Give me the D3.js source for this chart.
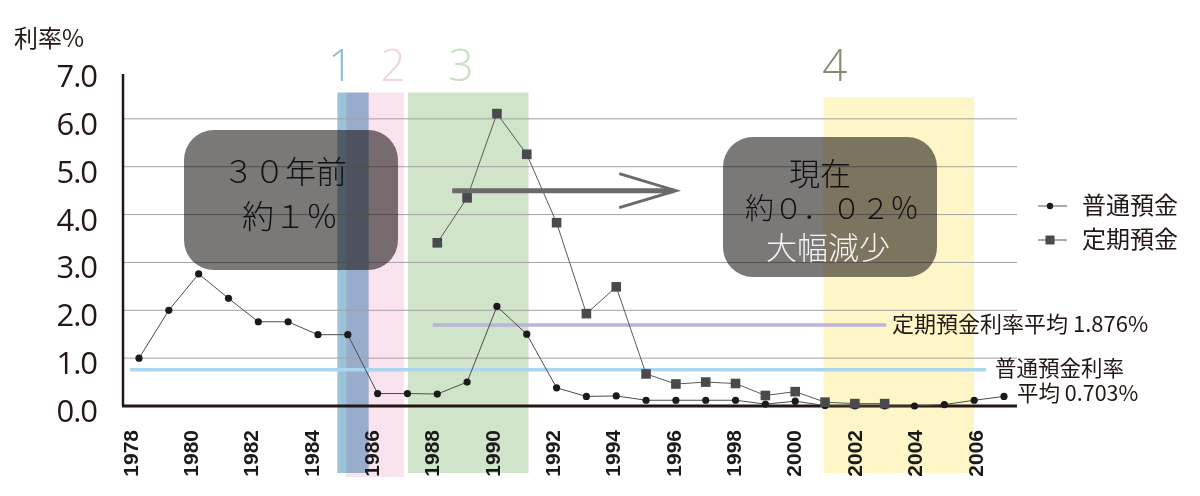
<!DOCTYPE html>
<html>
<head>
<meta charset="utf-8">
<script src="https://cdn.jsdelivr.net/npm/d3@7"></script>
<style>
body { margin:0; background:#ffffff; }
svg { display:block; }
</style>
</head>
<body>
<svg id="drawing_region"></svg>
<script>
// data
const years = [1978,1979,1980,1981,1982,1983,1984,1985,1986,1987,1988,1989,1990,1991,1992,
               1993,1994,1995,1996,1997,1998,1999,2000,2001,2002,2003,2004,2005,2006,2007];
const futsuuRates = [1.00,2.00,2.76,2.25,1.76,1.76,1.49,1.49,0.26,0.26,0.25,0.50,2.08,1.50,0.38,
                     0.20,0.21,0.12,0.12,0.12,0.12,0.04,0.10,0.01,0.00,0.00,0.00,0.03,0.12,0.20];
const teikiYears = [1988,1989,1990,1991,1992,1993,1994,1995,1996,1997,1998,1999,2000,2001,2002,2003];
const teikiRates = [3.41,4.35,6.11,5.26,3.83,1.93,2.49,0.67,0.46,0.50,0.47,0.22,0.30,0.08,0.05,0.05];

const seriesNames = ['普通預金', '定期預金'];

const yTickValues = [0,1,2,3,4,5,6,7];
const yTickLabels = ['0.0','1.0','2.0','3.0','4.0','5.0','6.0','7.0'];
const xTickYears = [1978,1980,1982,1984,1986,1988,1990,1992,1994,1996,1998,2000,2002,2004,2006];

const bandNames = ['2','1','3','4'];
const bandFrom  = [1984.95,1984.65,1987.02,2000.95];
const bandTo    = [1986.88,1985.70,1991.06,2006.00];
const bandLabelYear = [1986.52,1984.77,1988.80,2001.33];

const avgLineValue = [0.76,1.69];
const avgFrom = [1977.7,1987.85];
const avgTo   = [2006.4,2003.05];

var config = {
    parent: '#drawing_region',
    width: 1200,
    height: 496,
    margin: {top:71, right:183, bottom:90, left:123}
};

class LineChart {

    constructor( config ) {
        this.config = config;
        this.init();
    }

    init() {
        let self = this;

        self.svg = d3.select( self.config.parent )
            .attr('width', self.config.width)
            .attr('height', self.config.height);

        self.chart = self.svg.append('g')
            .attr('transform', `translate(${self.config.margin.left}, ${self.config.margin.top})`);

        self.inner_width = self.config.width - self.config.margin.left - self.config.margin.right;
        self.inner_height = self.config.height - self.config.margin.top - self.config.margin.bottom;

        self.xscale = d3.scaleLinear()
            .domain([1978, 2007])
            .range([16, 881]);

        // the year labels sit on a slightly wider spacing than the points
        self.xlabelscale = d3.scaleLinear()
            .domain([1978, 2006])
            .range([7, 852]);

        self.yscale = d3.scaleLinear()
            .domain([0, 7])
            .range([self.inner_height, 0]);

        self.line = d3.line()
            .x( d => self.xscale(d.x) )
            .y( d => self.yscale(d.y) );
    }

    render() {
        let self = this;
        const x = self.xscale, y = self.yscale;

        // coloured periods
        const bandColor = ['#f8e3ee', '#9cc3da', '#cfe4c8', '#fff6c8'];
        const labelColor = ['#f4d3e1', '#90bcd6', '#c6e1bd', '#8a8a70'];
        self.chart.selectAll('.band')
            .data(bandNames)
            .join('rect')
            .attr('class', 'band')
            .attr('x', (d,i) => x(bandFrom[i]))
            .attr('width', (d,i) => x(bandTo[i]) - x(bandFrom[i]))
            .attr('y', (d,i) => i == 3 ? y(6.45) : y(6.55))
            .attr('height', (d,i) => self.inner_height - y(6.55) + (i == 0 ? 71 : 67) - (i == 3 ? (y(6.45) - y(6.55)) : 0))
            .attr('fill', (d,i) => bandColor[i])
            .style('mix-blend-mode', 'multiply');

        self.chart.selectAll('.band_label')
            .data(bandNames)
            .join('text')
            .attr('class', 'band_label')
            .attr('x', (d,i) => x(bandLabelYear[i]))
            .attr('y', 10)
            .attr('text-anchor', 'middle')
            .attr('font-family', '"Open Sans", sans-serif')
            .attr('font-weight', 300)
            .attr('font-size', '44px')
            .attr('fill', (d,i) => labelColor[i])
            .text(d => d);

        // grid
        self.chart.selectAll('.grid')
            .data(yTickValues.filter(v => v > 0 && v < 7))
            .join('line')
            .attr('class', 'grid')
            .attr('x1', 0)
            .attr('x2', self.inner_width)
            .attr('y1', d => y(d))
            .attr('y2', d => y(d))
            .attr('stroke', '#a3a3a3')
            .attr('stroke-width', 1);

        // average lines
        const avgColor = ['#acd6ef', '#bab4da'];
        self.chart.selectAll('.avg')
            .data(avgLineValue)
            .join('line')
            .attr('class', 'avg')
            .attr('x1', (d,i) => x(avgFrom[i]))
            .attr('x2', (d,i) => x(avgTo[i]))
            .attr('y1', d => y(d))
            .attr('y2', d => y(d))
            .attr('stroke', (d,i) => avgColor[i])
            .attr('stroke-width', 3.5);

        const sans = '"Noto Sans CJK JP", "Noto Sans", sans-serif';
        const ink = '#231815';

        self.chart.append('text')
            .attr('x', 769)
            .attr('y', 261)
            .attr('font-family', sans)
            .attr('font-size', '22px')
            .attr('fill', ink)
            .text('定期預金利率平均 1.876%');

        self.chart.append('text')
            .attr('x', 872)
            .attr('y', 305)
            .attr('font-family', sans)
            .attr('font-size', '21.5px')
            .attr('fill', ink)
            .text('普通預金利率');

        self.chart.append('text')
            .attr('x', 894)
            .attr('y', 330)
            .attr('font-family', sans)
            .attr('font-size', '21.5px')
            .attr('fill', ink)
            .text('平均 0.703%');

        // axes
        self.chart.append('line')
            .attr('x1', 0).attr('x2', 0)
            .attr('y1', 3).attr('y2', self.inner_height)
            .attr('stroke', '#231815')
            .attr('stroke-width', 2.5);

        self.chart.append('line')
            .attr('x1', -1).attr('x2', self.inner_width)
            .attr('y1', self.inner_height).attr('y2', self.inner_height)
            .attr('stroke', '#231815')
            .attr('stroke-width', 3);

        self.chart.selectAll('.ytick')
            .data(yTickValues)
            .join('text')
            .attr('class', 'ytick')
            .attr('x', -26)
            .attr('y', d => y(d) + 16)
            .attr('text-anchor', 'end')
            .attr('font-family', '"Open Sans", sans-serif')
            .attr('font-size', '31px')
            .attr('letter-spacing', '-1px')
            .attr('fill', ink)
            .text((d,i) => yTickLabels[i]);

        self.chart.selectAll('.xtick')
            .data(xTickYears)
            .join('text')
            .attr('class', 'xtick')
            .attr('transform', d => `translate(${self.xlabelscale(d)}, ${self.inner_height + 24}) rotate(-90)`)
            .attr('text-anchor', 'end')
            .attr('dy', '0.36em')
            .attr('font-family', '"Liberation Sans", Arial, sans-serif')
            .attr('font-weight', 'bold')
            .attr('font-size', '21px')
            .attr('fill', '#1a1a1a')
            .text(d => d);

        self.svg.append('text')
            .attr('x', 14)
            .attr('y', 47)
            .attr('font-family', sans)
            .attr('font-size', '24px')
            .attr('fill', ink)
            .text('利率%');

        // series
        const futsuu = years.map((d,i) => ({x:d, y:futsuuRates[i]}));
        const teiki = teikiYears.map((d,i) => ({x:d, y:teikiRates[i]}));

        self.chart.append('path')
            .attr('d', self.line(futsuu))
            .attr('stroke', '#4d4d4d')
            .attr('stroke-width', 1)
            .attr('fill', 'none');

        self.chart.append('path')
            .attr('d', self.line(teiki))
            .attr('stroke', '#5a5a5a')
            .attr('stroke-width', 1)
            .attr('fill', 'none');

        self.chart.selectAll('circle')
            .data(futsuu)
            .join('circle')
            .attr('cx', d => x(d.x))
            .attr('cy', d => y(d.y))
            .attr('r', 3.6)
            .attr('fill', '#1a1a1a');

        self.chart.selectAll('.sq')
            .data(teiki)
            .join('rect')
            .attr('class', 'sq')
            .attr('x', d => x(d.x) - 4.8)
            .attr('y', d => y(d.y) - 4.8)
            .attr('width', 9.6)
            .attr('height', 9.6)
            .attr('fill', '#4a4a4c');

        // arrow
        const ay = y(4.5);
        self.chart.append('line')
            .attr('x1', x(1988.5)).attr('x2', x(1996.0) - 2)
            .attr('y1', ay).attr('y2', ay)
            .attr('stroke', '#6a6a6a')
            .attr('stroke-width', 5);
        self.chart.append('path')
            .attr('d', `M${x(1994.1)},${ay - 17} L${x(1996.0)},${ay} L${x(1994.1)},${ay + 17}`)
            .attr('stroke', '#6a6a6a')
            .attr('stroke-width', 3)
            .attr('fill', 'none');

        // call-out boxes
        const boxes = [
            {x:184, y:130, w:214, h:140},
            {x:723, y:137, w:214, h:140}
        ];
        self.svg.selectAll('.box')
            .data(boxes)
            .join('rect')
            .attr('class', 'box')
            .attr('x', d => d.x).attr('y', d => d.y)
            .attr('width', d => d.w).attr('height', d => d.h)
            .attr('rx', 30).attr('ry', 30)
            .attr('fill', '#0c0606')
            .attr('fill-opacity', 0.54);

        const boxText = [
            {t:'３０年前', x:285, y:183, s:31, c:'#111111'},
            {t:'約１％', x:290, y:228, s:32, c:'#111111'},
            {t:'現在', x:820, y:185, s:31, c:'#111111'},
            {t:'約０．０２％', x:832, y:219, s:29, c:'#111111'},
            {t:'大幅減少', x:828, y:259, s:31, c:'#f4f4f4'}
        ];
        self.svg.selectAll('.box_text')
            .data(boxText)
            .join('text')
            .attr('class', 'box_text')
            .attr('x', d => d.x).attr('y', d => d.y)
            .attr('text-anchor', 'middle')
            .attr('font-family', sans)
            .attr('font-weight', 300)
            .attr('font-size', d => d.s + 'px')
            .attr('fill', d => d.c)
            .text(d => d.t);

        // legend
        const legend = self.svg.selectAll('.legend')
            .data(seriesNames)
            .join('g')
            .attr('class', 'legend')
            .attr('transform', (d,i) => `translate(1038, ${206 + i * 34})`);
        legend.append('line')
            .attr('x1', 0).attr('x2', 29)
            .attr('y1', 0).attr('y2', 0)
            .attr('stroke', '#555')
            .attr('stroke-width', 1);
        legend.filter((d,i) => i == 0).append('circle')
            .attr('cx', 12).attr('cy', 0).attr('r', 3.2)
            .attr('fill', '#1a1a1a');
        legend.filter((d,i) => i == 1).append('rect')
            .attr('x', 7.5).attr('y', -4.5).attr('width', 9).attr('height', 9)
            .attr('fill', '#4a4a4c');
        legend.append('text')
            .attr('x', 44)
            .attr('y', 0)
            .attr('dy', '0.35em')
            .attr('font-family', sans)
            .attr('font-size', '24px')
            .attr('fill', ink)
            .text(d => d);
    }
}

const chart = new LineChart( config );
chart.render();
</script>
</body>
</html>
